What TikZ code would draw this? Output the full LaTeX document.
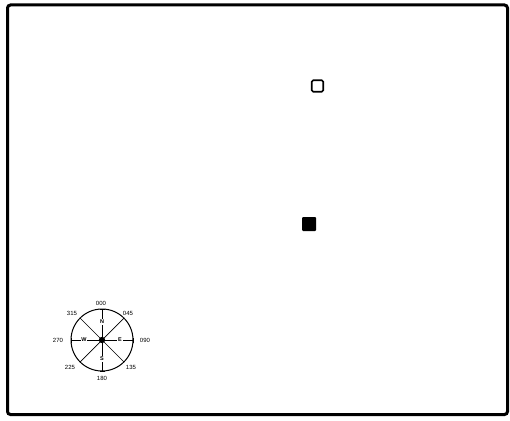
\documentclass[tikz,border=0pt]{standalone}
\usepackage{fontspec}
\setmainfont{Liberation Sans}
\begin{document}
\begin{tikzpicture}[x=1pt,y=-1pt,
  lbl/.style={font=\fontsize{6}{7}\selectfont, inner sep=0pt},
  ltr/.style={font=\fontsize{5.5}{6}\selectfont\bfseries, inner sep=0pt, fill=white, inner xsep=0.8pt, inner ysep=0.8pt},
  frame/.style={draw=black, line width=3pt, rounded corners=3pt},
  ring/.style={draw=black, line width=1pt},
  spoke/.style={draw=black, line width=0.7pt},
  cardinal/.style={draw=black, line width=0.8pt}]
\useasboundingbox (0,0) rectangle (510,420);
\fill[white] (0,0) rectangle (510,420);
\draw[frame] (7.5,5) rectangle (507.5,414.5);
% squares
\node[draw=black, line width=1.6pt, rounded corners=1.5pt, minimum size=11.5pt, inner sep=0pt] (open) at (317.5,86) {};
\node[fill=black, rounded corners=1pt, minimum size=14pt, inner sep=0pt] (filled) at (309,224) {};
% compass
\coordinate (c) at (102,340);
\draw[ring] (c) circle (31);
\foreach \a in {45,135,225,315} \draw[spoke] (c) -- ++(\a:31);
\draw[cardinal] (102,309) -- (102,371);
\draw[cardinal] (71,340) -- (133,340);
% ticks at cardinal points
\draw[line width=0.9pt] (99.5,309) -- (104.5,309) (99.5,371) -- (104.5,371) (71,337.5) -- (71,342.5) (133,337.5) -- (133,342.5);
\fill (c) circle (3.2);
\node[ltr] (N) at (102,322) {N};
\node[ltr] (S) at (102,359) {S};
\node[ltr] (E) at (120,340) {E};
\node[ltr] (W) at (84,340) {W};
\node[lbl] (l000) at (101,303) {000};
\node[lbl] (l045) at (128,313) {045};
\node[lbl] (l090) at (145,340) {090};
\node[lbl] (l135) at (131,367) {135};
\node[lbl] (l180) at (102,378) {180};
\node[lbl] (l225) at (70,367) {225};
\node[lbl] (l270) at (58,340) {270};
\node[lbl] (l315) at (72,313) {315};
\end{tikzpicture}
\end{document}
